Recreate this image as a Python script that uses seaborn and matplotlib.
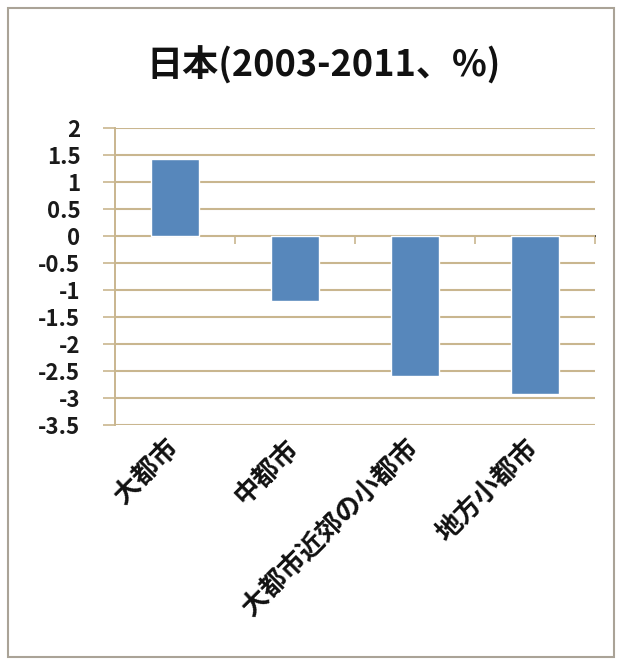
import matplotlib
matplotlib.use("Agg")
import matplotlib.pyplot as plt
from matplotlib.patches import Rectangle
import seaborn as sns
import pandas as pd
import numpy as np

categories = ["大都市", "中都市", "大都市近郊の小都市", "地方小都市"]
values = [1.43, -1.2, -2.6, -2.93]
y_ticks = [2, 1.5, 1, 0.5, 0, -0.5, -1, -1.5, -2, -2.5, -3, -3.5]
y_tick_labels = ["2", "1.5", "1", "0.5", "0", "-0.5", "-1", "-1.5", "-2", "-2.5", "-3", "-3.5"]
title = "日本(2003-2011、%)"

sns.set_theme(style="white")
plt.rcParams["font.family"] = ["Noto Sans CJK JP", "DejaVu Sans"]
plt.rcParams["font.weight"] = "bold"
plt.rcParams["ytick.labelsize"] = 16
plt.rcParams["xtick.labelsize"] = 19
plt.rcParams["ytick.labelcolor"] = "#1a1a1a"
plt.rcParams["xtick.labelcolor"] = "#111111"

grid_color = "#c9b68f"
bar_color = "#5787bb"

df = pd.DataFrame({"category": categories, "value": values})

fig = plt.figure(figsize=(6.21, 6.61), dpi=100)
ax = fig.add_axes([115 / 621, 1 - 425 / 661, 480 / 621, 297 / 661])

sns.barplot(data=df, x="category", y="value", color=bar_color, width=0.4,
            saturation=1, ax=ax, zorder=3)

ymin, ymax = -3.5, 2
ax.set_ylim(ymin, ymax)
ax.set_xlim(-0.5, len(categories) - 0.5)
ax.set_yticks(y_ticks)
ax.set_yticklabels(y_tick_labels, fontweight="bold")
ax.yaxis.grid(True, color=grid_color, linewidth=1.5, zorder=0)
ax.set_axisbelow(True)
ax.tick_params(axis="y", length=9, width=1.2, color=grid_color, pad=16, left=True)
ax.set_xlabel("")
ax.set_ylabel("")

for side in ["top", "right", "bottom"]:
    ax.spines[side].set_visible(False)
ax.spines["left"].set_color(grid_color)
ax.spines["left"].set_linewidth(1.4)

# horizontal axis line at zero with tick marks between categories
zero_axis = ax.secondary_xaxis((0 - ymin) / (ymax - ymin))
zero_axis.set_xticks(np.arange(len(categories) + 1) - 0.5)
zero_axis.set_xticklabels([])
zero_axis.tick_params(axis="x", direction="out", length=6, width=1.2,
                      color=grid_color, bottom=True, top=False)
zero_axis.spines["bottom"].set_color(grid_color)
zero_axis.spines["bottom"].set_linewidth(1.6)
zero_axis.xaxis.set_ticks_position("bottom")

# category labels, slanted, hanging below the plot area
ax.tick_params(axis="x", length=0, pad=14)
for lab in ax.get_xticklabels():
    lab.set_rotation(45)
    lab.set_ha("right")
    lab.set_va("center")
    lab.set_rotation_mode("anchor")
    lab.set_fontweight("bold")

fig.text(324 / 621, 1 - 65 / 661, title, ha="center", va="center",
         fontsize=26, fontweight="bold", color="#111111")

fig.add_artist(Rectangle((8 / 621, 4 / 661), 606 / 621, 649 / 661,
                         transform=fig.transFigure, fill=False,
                         edgecolor="#aaa397", linewidth=1.5))

fig.savefig("out.png", dpi=100)
